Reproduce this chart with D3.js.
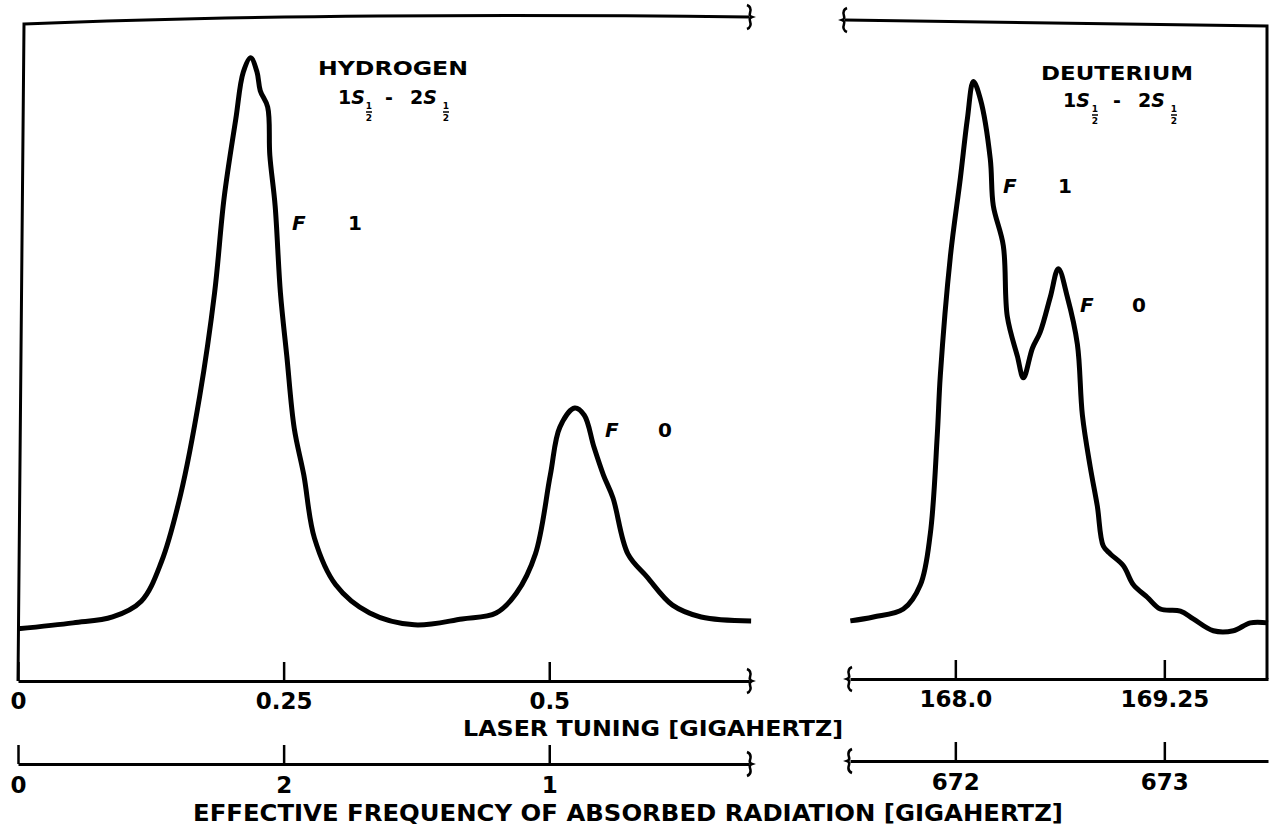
<!DOCTYPE html>
<html>
<head>
<meta charset="utf-8">
<script src="https://cdn.jsdelivr.net/npm/d3@7"></script>
<style>
  body { margin: 0; background: #fff; }
  text { font-family: "DejaVu Sans", sans-serif; font-weight: bold; fill: #000; }
</style>
</head>
<body>
<div id="chart"></div>
<script>
// hydrogen trace: laser tuning (GHz) vs signal (arb. units)
var hFreq = [0.0, 0.052, 0.089, 0.116, 0.135, 0.153, 0.171, 0.185, 0.194, 0.205, 0.212, 0.219, 0.225, 0.228,
  0.235, 0.237, 0.242, 0.247, 0.253, 0.260, 0.269, 0.279, 0.299, 0.331, 0.373, 0.418, 0.450, 0.469, 0.487,
  0.501, 0.510, 0.524, 0.533, 0.542, 0.551, 0.560, 0.574, 0.592, 0.616, 0.643, 0.690];
var hSignal = [8.1, 9.0, 9.9, 12.3, 18.3, 28.5, 43.5, 59.2, 73.7, 85.7, 92.8, 95.0, 92.8, 90.0,
  87.5, 80.2, 72.5, 59.2, 49.6, 38.6, 31.5, 21.9, 14.8, 10.5, 8.7, 9.6, 10.5, 13.5, 19.5,
  31.5, 38.8, 41.7, 40.6, 35.8, 31.5, 28.0, 19.5, 16.0, 11.7, 9.9, 9.3];

// deuterium trace
var dFreq = [167.372, 167.510, 167.689, 167.791, 167.850, 167.892, 167.910, 167.970, 168.030, 168.072, 168.108,
  168.150, 168.209, 168.227, 168.287, 168.311, 168.371, 168.407, 168.461, 168.508, 168.568, 168.616, 168.670,
  168.730, 168.760, 168.807, 168.849, 168.885, 168.927, 169.005, 169.065, 169.148, 169.226, 169.346, 169.423,
  169.543, 169.663, 169.764, 169.870];
var dSignal = [9.3, 9.9, 11.1, 14.8, 22.5, 37.6, 46.6, 64.7, 76.7, 85.7, 91.4,
  88.7, 79.6, 72.5, 66.4, 55.6, 49.6, 46.3, 50.8, 53.3, 58.6, 62.9, 58.6,
  51.4, 40.6, 32.7, 26.8, 20.7, 19.5, 17.7, 14.8, 12.9, 11.1, 10.8, 9.6,
  7.8, 7.8, 9.0, 9.0];

// tick values and labels
var laserTicksH = [0, 0.25, 0.5];
var laserLabelsH = ["0", "0.25", "0.5"];
var effLabelsH = ["0", "2", "1"];
var laserTicksD = [168.0, 169.25];
var laserLabelsD = ["168.0", "169.25"];
var effLabelsD = ["672", "673"];

var width = 1270, height = 833;

var svg = d3.select("#chart").append("svg")
    .attr("width", width)
    .attr("height", height);

svg.append("rect").attr("width", width).attr("height", height).attr("fill", "#fff");

var xH = d3.scaleLinear().domain([0, 0.688]).range([18, 749]);
var xD = d3.scaleLinear().domain([167.37, 169.87]).range([850, 1268]);
var y = d3.scaleLinear().domain([0, 100]).range([682, 25]);

// brace end marks: dir 1 = "}", dir -1 = "{"
function brace(x, yy, dir, h) {
    h = h || 12;
    var d = dir;
    svg.append("path")
        .attr("d", "M" + (x - 2 * d) + "," + (yy - h) +
            " Q" + (x + 3 * d) + "," + (yy - h + 2) + " " + (x + 1 * d) + "," + (yy - 4) +
            " Q" + (x) + "," + (yy - 1) + " " + (x + 3 * d) + "," + yy +
            " Q" + (x) + "," + (yy + 1) + " " + (x + 1 * d) + "," + (yy + 4) +
            " Q" + (x + 3 * d) + "," + (yy + h - 2) + " " + (x - 2 * d) + "," + (yy + h))
        .attr("fill", "none")
        .attr("stroke", "#000")
        .attr("stroke-width", 2.5);
}

// frames
var frame = svg.append("g").attr("fill", "none").attr("stroke", "#000").attr("stroke-width", 3);
frame.append("path").attr("d", "M18,681 L24,24 Q320,12 " + xH.range()[1] + ",17");
frame.append("path").attr("d", "M845,20 L1267,26 L1267,679");
brace(xH.range()[1], 17, 1);
brace(845, 20, -1);

// axes
function styleAxis(g) {
    g.select(".domain").attr("stroke-width", 3);
    g.selectAll(".tick line").attr("stroke-width", 2.5);
    g.selectAll(".tick text")
        .attr("font-size", 23)
        .attr("font-family", "DejaVu Sans, sans-serif")
        .attr("font-weight", "bold");
}

svg.append("g").attr("transform", "translate(0,681)")
    .call(d3.axisBottom(xH).tickValues(laserTicksH).tickFormat((d, i) => laserLabelsH[i])
        .tickSize(-19).tickSizeOuter(0).tickPadding(12))
    .call(styleAxis);

svg.append("g").attr("transform", "translate(0,679)")
    .call(d3.axisBottom(xD).tickValues(laserTicksD).tickFormat((d, i) => laserLabelsD[i])
        .tickSize(-19).tickSizeOuter(0).tickPadding(12))
    .call(styleAxis);

svg.append("g").attr("transform", "translate(0,764)")
    .call(d3.axisBottom(xH).tickValues(laserTicksH).tickFormat((d, i) => effLabelsH[i])
        .tickSize(-19).tickSizeOuter(0).tickPadding(13))
    .call(styleAxis);

svg.append("g").attr("transform", "translate(0,761)")
    .call(d3.axisBottom(xD).tickValues(laserTicksD).tickFormat((d, i) => effLabelsD[i])
        .tickSize(-19).tickSizeOuter(0).tickPadding(13))
    .call(styleAxis);

brace(xH.range()[1], 681, 1);
brace(xH.range()[1], 764, 1);
brace(xD.range()[0], 679, -1);
brace(xD.range()[0], 761, -1);

// axis titles
svg.append("text").attr("x", 463).attr("y", 736)
    .attr("font-size", 22).attr("textLength", 380).attr("lengthAdjust", "spacingAndGlyphs")
    .text("LASER TUNING [GIGAHERTZ]");
svg.append("text").attr("x", 193).attr("y", 821)
    .attr("font-size", 23).attr("textLength", 870).attr("lengthAdjust", "spacingAndGlyphs")
    .text("EFFECTIVE FREQUENCY OF ABSORBED RADIATION [GIGAHERTZ]");

// traces
var lineH = d3.line().x((d, i) => xH(hFreq[i])).y(d => y(d)).curve(d3.curveCatmullRom);
var lineD = d3.line().x((d, i) => xD(dFreq[i])).y(d => y(d)).curve(d3.curveCatmullRom);

svg.append("path").datum(hSignal).attr("d", lineH)
    .attr("fill", "none").attr("stroke", "#000").attr("stroke-width", 5).attr("stroke-linejoin", "round");
svg.append("path").datum(dSignal).attr("d", lineD)
    .attr("fill", "none").attr("stroke", "#000").attr("stroke-width", 5).attr("stroke-linejoin", "round");

// titles with 1S1/2 - 2S1/2 terms
function term(x, yy, label, fracX) {
    var t = svg.append("text").attr("x", x).attr("y", yy).attr("font-size", 19);
    t.append("tspan").text(label);
    t.append("tspan").attr("font-style", "italic").text("S");
    svg.append("text").attr("x", fracX).attr("y", yy + 5).attr("font-size", 9)
        .attr("text-anchor", "middle").text("1");
    svg.append("line").attr("x1", fracX - 3).attr("x2", fracX + 3)
        .attr("y1", yy + 8).attr("y2", yy + 8).attr("stroke", "#000").attr("stroke-width", 1.5);
    svg.append("text").attr("x", fracX).attr("y", yy + 17).attr("font-size", 9)
        .attr("text-anchor", "middle").text("2");
}

svg.append("text").attr("x", 393).attr("y", 75).attr("font-size", 19).attr("text-anchor", "middle")
    .attr("textLength", 150).attr("lengthAdjust", "spacingAndGlyphs").text("HYDROGEN");
term(338, 104, "1", 369);
svg.append("text").attr("x", 389).attr("y", 104).attr("font-size", 19).attr("text-anchor", "middle").text("-");
term(410, 104, "2", 446);

svg.append("text").attr("x", 1117).attr("y", 80).attr("font-size", 19).attr("text-anchor", "middle")
    .attr("textLength", 152).attr("lengthAdjust", "spacingAndGlyphs").text("DEUTERIUM");
term(1063, 107, "1", 1095);
svg.append("text").attr("x", 1117).attr("y", 107).attr("font-size", 19).attr("text-anchor", "middle").text("-");
term(1138, 107, "2", 1174);

// F labels
function fLabel(x, yy, val, valX) {
    svg.append("text").attr("x", x).attr("y", yy).attr("font-size", 20).attr("font-style", "italic").text("F");
    svg.append("text").attr("x", valX).attr("y", yy).attr("font-size", 20).text(val);
}
fLabel(292, 230, "1", 348);
fLabel(605, 437, "0", 658);
fLabel(1003, 193, "1", 1058);
fLabel(1080, 312, "0", 1132);
</script>
</body>
</html>
